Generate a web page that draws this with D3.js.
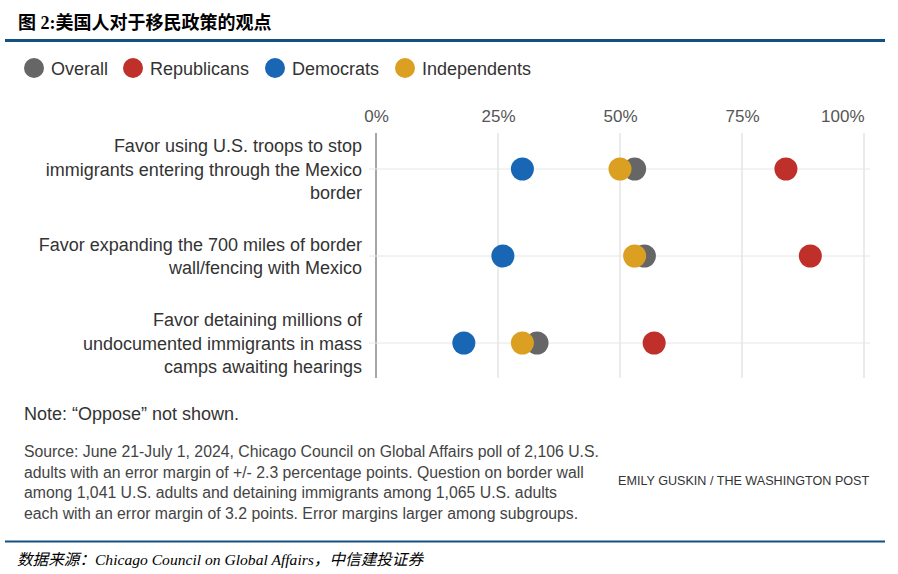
<!DOCTYPE html>
<html><head><meta charset="utf-8">
<script src="https://cdn.jsdelivr.net/npm/d3@7"></script>
<style>
html,body{margin:0;padding:0;background:#fff;}
svg{display:block;}
</style></head>
<body>
<svg id="c" width="898" height="574"></svg>
<script>
const title = "图 2:美国人对于移民政策的观点";
const categories = [
  "Favor using U.S. troops to stop\nimmigrants entering through the Mexico\nborder",
  "Favor expanding the 700 miles of border\nwall/fencing with Mexico",
  "Favor detaining millions of\nundocumented immigrants in mass\ncamps awaiting hearings"
];
const seriesNames = ["Overall", "Republicans", "Democrats", "Independents"];
const seriesColors = ["#666666", "#c0302a", "#1866b4", "#dba021"];
const overall = [53, 55, 33];
const republicans = [84, 89, 57];
const democrats = [30, 26, 18];
const independents = [50, 53, 30];
const tickValues = [0, 25, 50, 75, 100];
const tickLabels = ["0%", "25%", "50%", "75%", "100%"];
const note = "Note: \u201COppose\u201D not shown.";
const sourceLines = [
  "Source: June 21-July 1, 2024, Chicago Council on Global Affairs poll of 2,106 U.S.",
  "adults with an error margin of +/- 2.3 percentage points. Question on border wall",
  "among 1,041 U.S. adults and detaining immigrants among 1,065 U.S. adults",
  "each with an error margin of 3.2 points. Error margins larger among subgroups."
];
const credit = "EMILY GUSKIN / THE WASHINGTON POST";
const footer = "数据来源：Chicago Council on Global Affairs，中信建投证券";

const series = [overall, republicans, democrats, independents];
const svg = d3.select("#c");
const sans = "'Liberation Sans', Arial, sans-serif";

// Title
svg.append("text").attr("x", 18).attr("y", 29)
  .attr("font-family", "'Liberation Serif', 'Noto Sans CJK SC', serif")
  .attr("font-weight", "bold").attr("font-size", 18).attr("fill", "#000")
  .text(title);
svg.append("rect").attr("x", 5).attr("y", 39).attr("width", 880).attr("height", 3).attr("fill", "#13507f");

// Legend
const legendX = [34, 133, 275, 405];
const lg = svg.append("g");
seriesNames.forEach((n, i) => {
  lg.append("circle").attr("cx", legendX[i]).attr("cy", 68).attr("r", 10).attr("fill", seriesColors[i]);
  lg.append("text").attr("x", legendX[i] + 17).attr("y", 74.5)
    .attr("font-family", sans).attr("font-size", 18).attr("fill", "#333").text(n);
});

// Scales
const x = d3.scaleLinear().domain([0, 100]).range([376, 864]);
const y = d3.scalePoint().domain(categories).range([169, 343]);

// Vertical grid
const grid = svg.append("g");
tickValues.forEach(v => {
  grid.append("line").attr("x1", x(v)).attr("x2", x(v)).attr("y1", 133).attr("y2", 378)
    .attr("stroke", v === 0 ? "#a6a6a6" : "#e4e4e4").attr("stroke-width", v === 0 ? 2 : 1.5);
});
// Horizontal grid
categories.forEach(c => {
  grid.append("line").attr("x1", 369).attr("x2", 870).attr("y1", y(c)).attr("y2", y(c))
    .attr("stroke", "#e6e6e6").attr("stroke-width", 1);
});

// Top axis labels
const ax = svg.append("g").attr("transform", "translate(0,122)")
  .call(d3.axisTop(x).tickValues(tickValues).tickFormat((d, i) => tickLabels[i]).tickSize(0).tickPadding(0));
ax.select(".domain").remove();
ax.selectAll("text").attr("font-family", sans).attr("font-size", 17).attr("fill", "#555").attr("dy", 0)
  .attr("text-anchor", d => d === 100 ? "end" : "middle");

// Category labels
categories.forEach(c => {
  const lines = c.split("\n");
  const lh = 23.5;
  const t = svg.append("text").attr("text-anchor", "end")
    .attr("font-family", sans).attr("font-size", 18).attr("fill", "#333");
  lines.forEach((l, k) => {
    t.append("tspan").attr("x", 362)
      .attr("y", y(c) + (k - (lines.length - 1) / 2) * lh + 6.5)
      .text(l);
  });
});

// Dots
series.forEach((vals, si) => {
  svg.append("g").selectAll("circle").data(vals).join("circle")
    .attr("cx", d => x(d)).attr("cy", (d, i) => y(categories[i])).attr("r", 11.5)
    .attr("fill", seriesColors[si]);
});

// Note
svg.append("text").attr("x", 24).attr("y", 420).attr("font-family", sans)
  .attr("font-size", 18).attr("fill", "#333").text(note);
sourceLines.forEach((l, k) => {
  svg.append("text").attr("x", 24).attr("y", 457 + k * 20.5).attr("font-family", sans)
    .attr("font-size", 15.8).attr("fill", "#444").text(l);
});
svg.append("text").attr("x", 618).attr("y", 484.5).attr("font-family", sans)
  .attr("font-size", 12.6).attr("fill", "#333").text(credit);

svg.append("rect").attr("x", 5).attr("y", 540.5).attr("width", 880).attr("height", 2).attr("fill", "#13507f");
svg.append("text").attr("x", 17).attr("y", 565).attr("font-family", "'Liberation Serif', 'Noto Sans CJK SC', serif")
  .attr("font-style", "italic").attr("font-size", 15.6).attr("fill", "#000").text(footer);
</script>
</body></html>
